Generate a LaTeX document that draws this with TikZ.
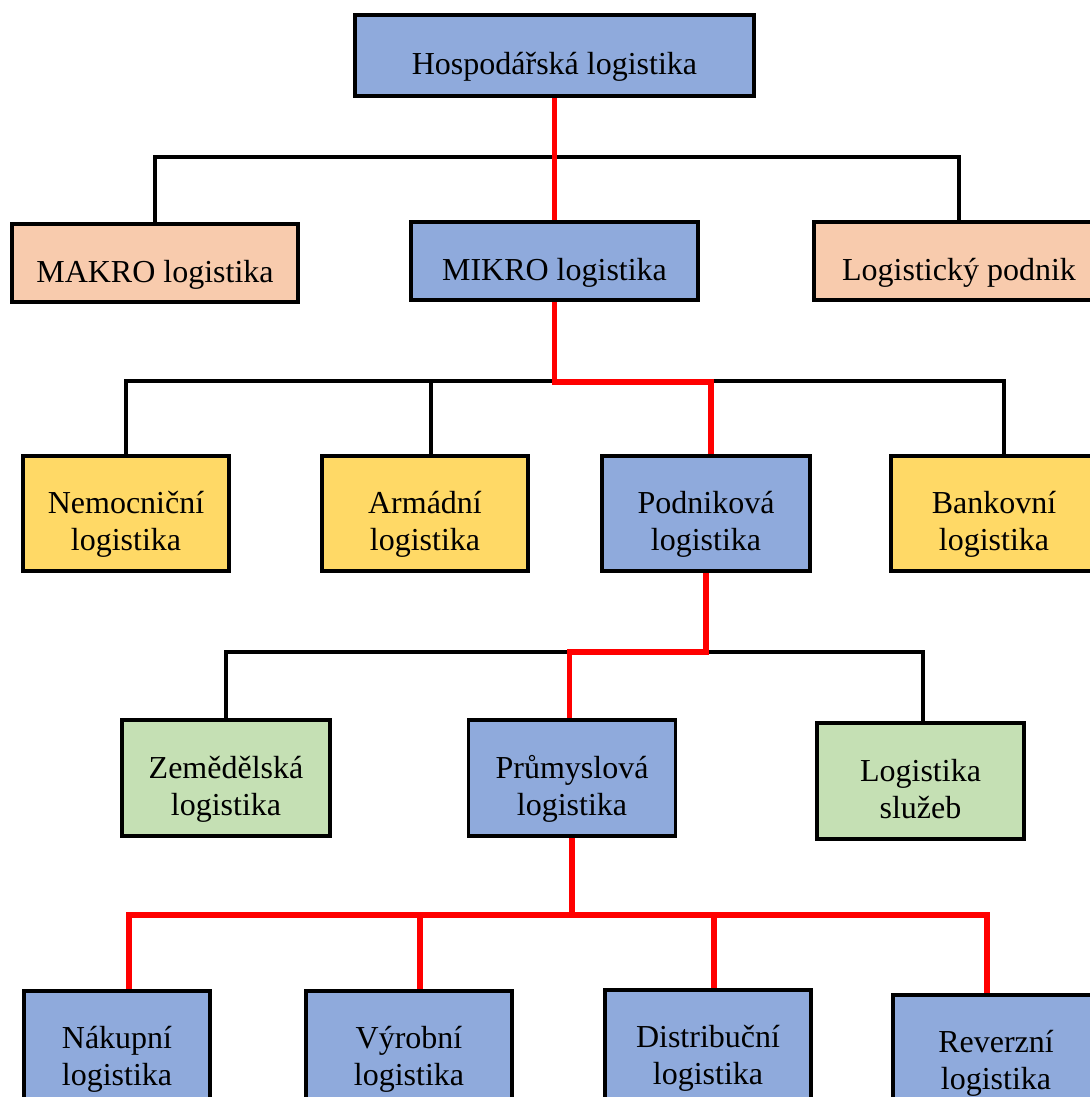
\documentclass[tikz,border=0pt]{standalone}
\usepackage{fontspec}
\setmainfont{Liberation Serif}
\definecolor{cblue}{HTML}{8FAADC}
\definecolor{cpeach}{HTML}{F8CBAD}
\definecolor{cyellow}{HTML}{FFD966}
\definecolor{cgreen}{HTML}{C5E0B4}
\definecolor{cred}{HTML}{FF0000}
\pgfdeclarelayer{bg}
\pgfsetlayers{bg,main}
\newcommand\twoline[2]{\begin{tabular}[t]{@{}c@{}}#1\\#2\end{tabular}}
\begin{document}
\begin{tikzpicture}[x=1pt,y=-1pt,
  box/.style={draw=black, line width=3.8pt, rectangle, inner sep=0pt,
    font=\fontsize{32}{37}\selectfont},
  one/.style={box, text height=39pt, text depth=0pt},
  two/.style={box, text height=30pt, text depth=30pt},
  blk/.style={line width=3.2pt, draw=black},
  redl/.style={line width=5.5pt, draw=cred}]
\useasboundingbox (0,0) rectangle (1089,1097);

% level 0/1
\node[one, fill=cblue, minimum width=399pt, minimum height=81pt] (hosp) at (554.5,55.5) {Hospodářská logistika};
\node[one, fill=cpeach, minimum width=286pt, minimum height=78pt] (makro) at (155,263) {MAKRO logistika};
\node[one, fill=cblue, minimum width=287pt, minimum height=78pt] (mikro) at (554.5,261) {MIKRO logistika};
\node[one, fill=cpeach, minimum width=290pt, minimum height=78pt] (logp) at (959,261) {Logistický podnik};

% level 2
\node[two, fill=cyellow, minimum width=206pt, minimum height=115pt] (nemo) at (126,513.5) {\twoline{Nemocniční}{logistika}};
\node[two, fill=cyellow, minimum width=206pt, minimum height=115pt] (arma) at (425,513.5) {\twoline{Armádní}{logistika}};
\node[two, fill=cblue, minimum width=208pt, minimum height=115pt] (podn) at (706,513.5) {\twoline{Podniková}{logistika}};
\node[two, fill=cyellow, minimum width=206pt, minimum height=115pt] (bank) at (994,513.5) {\twoline{Bankovní}{logistika}};

% level 3
\node[two, fill=cgreen, minimum width=208pt, minimum height=116pt] (zeme) at (226,778) {\twoline{Zemědělská}{logistika}};
\node[two, fill=cblue, minimum width=207pt, minimum height=116pt] (prum) at (572,778) {\twoline{Průmyslová}{logistika}};
\node[two, fill=cgreen, minimum width=207pt, minimum height=116pt] (sluz) at (920.5,781) {\twoline{Logistika}{služeb}};

% level 4
\node[two, fill=cblue, minimum width=186pt, minimum height=114pt] (nak) at (117,1048) {\twoline{Nákupní}{logistika}};
\node[two, fill=cblue, minimum width=206pt, minimum height=114pt] (vyr) at (409,1048) {\twoline{Výrobní}{logistika}};
\node[two, fill=cblue, minimum width=206pt, minimum height=114pt] (dist) at (708,1047) {\twoline{Distribuční}{logistika}};
\node[two, fill=cblue, minimum width=206pt, minimum height=114pt] (rev) at (996,1052) {\twoline{Reverzní}{logistika}};

\coordinate (b1) at (0,157);
\coordinate (b2) at (0,381);
\coordinate (b2r) at (0,382);
\coordinate (b3) at (0,652);
\coordinate (b4) at (0,915);

\begin{pgfonlayer}{bg}
% black connectors
\draw[blk] (makro.north) -- (makro.north |- b1) -- (logp.north |- b1) -- (logp.north);
\draw[blk] (nemo.north) -- (nemo.north |- b2) -- ([xshift=10pt]bank.north |- b2) -- ([xshift=10pt]bank.north);
\draw[blk] ([xshift=6pt]arma.north) -- ([xshift=6pt]arma.north |- b2);
\draw[blk] (zeme.north) -- (zeme.north |- b3) -- ([xshift=2.5pt]sluz.north |- b3) -- ([xshift=2.5pt]sluz.north);
% red connectors
\draw[redl] (hosp.south) -- (mikro.north);
\draw[redl] (mikro.south) -- (mikro.south |- b2r) -- ([xshift=5pt]podn.north |- b2r) -- ([xshift=5pt]podn.north);
\draw[redl] (podn.south) -- (podn.south |- b3) -- ([xshift=-2.5pt]prum.north |- b3) -- ([xshift=-2.5pt]prum.north);
\draw[redl] (prum.south) -- (prum.south |- b4);
\draw[redl] ([xshift=12pt]nak.north) -- ([xshift=12pt]nak.north |- b4) -- ([xshift=-9pt]rev.north |- b4) -- ([xshift=-9pt]rev.north);
\draw[redl] ([xshift=11pt]vyr.north) -- ([xshift=11pt]vyr.north |- b4);
\draw[redl] ([xshift=6pt]dist.north) -- ([xshift=6pt]dist.north |- b4);
\end{pgfonlayer}
\end{tikzpicture}
\end{document}
